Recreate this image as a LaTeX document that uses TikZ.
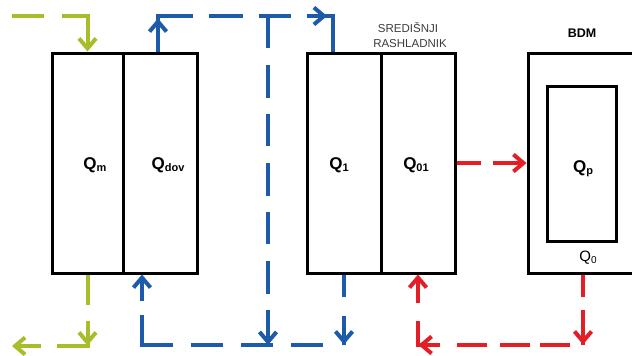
\documentclass[tikz,border=0pt]{standalone}
\usepackage{fontspec}
\setmainfont{Liberation Sans}
\usetikzlibrary{arrows.meta,decorations.markings,calc}
\definecolor{cgreen}{HTML}{A9BD2A}
\definecolor{cblue}{HTML}{1E5AAA}
\definecolor{cred}{HTML}{E31E24}
\definecolor{cgray}{HTML}{3C3C3C}
\newcommand{\Qsub}[1]{Q\raisebox{-2pt}{\fontsize{11}{11}\selectfont #1}}
\newcommand{\Qsubr}[1]{Q\raisebox{-2pt}{\fontsize{10}{10}\selectfont #1}}
\tikzset{
  box/.style={draw=black, line width=3pt, inner sep=0pt, minimum height=220pt},
  tip/.tip={Straight Barb[length=10pt,width=17pt]},
  flow/.style={line width=4pt, line cap=butt, line join=miter},
  gline/.style={flow, draw=cgreen},
  bline/.style={flow, draw=cblue},
  rline/.style={flow, draw=cred},
  marr/.style={postaction={decorate, decoration={markings, mark=at position #1 with {\arrow{tip}}}}},
  qlab/.style={inner sep=0pt, anchor=base, font=\fontsize{17}{17}\selectfont\bfseries},
  small/.style={inner sep=0pt, anchor=base, text=cgray, font=\fontsize{11.5}{11.5}\selectfont},
}
\begin{document}
\begin{tikzpicture}[x=1pt, y=-1pt]
\useasboundingbox (0,0) rectangle (632,356);

% boxes
\node[box, minimum width=71pt] (qm) at (87.5,163) {};
\node[box, minimum width=74pt] (qdov) at (160,163) {};
\node[box, minimum width=74pt] (q1) at (344,163) {};
\node[box, minimum width=74pt] (q01) at (418,163) {};
\node[box, minimum width=69pt, minimum height=155pt] (qp) at (581.5,163.5) {};
\coordinate (bdmtr) at (634,53);
\coordinate (bdmtl) at (528,53);
\coordinate (bdmbl) at (528,273);
\coordinate (bdmbr) at (634,273);
\draw[line width=3pt, line join=miter] (bdmtr) -- (bdmtl) -- (bdmbl) -- (bdmbr);
\coordinate (bdmw) at (526.5,163);
\coordinate (bdms) at (583,274.5);

% labels
\node[qlab] (tqm) at (95,169) {\Qsub{m}};
\node[qlab] (tqdov) at (168,169) {\Qsub{dov}};
\node[qlab] (tq1) at (339,169) {\Qsub{1}};
\node[qlab] (tq01) at (416,169) {\Qsub{01}};
\node[qlab] (tqp) at (583,172) {\Qsub{p}};
\node[inner sep=0pt, anchor=base, font=\fontsize{15}{15}\selectfont] (tq0) at (588,261) {\Qsubr{0}};
\node[small] (tsred) at (408,32.5) {SREDIŠNJI};
\node[small] (trash) at (410,47) {RASHLADNIK};
\node[inner sep=0pt, anchor=base, font=\fontsize{12.5}{12.5}\selectfont\bfseries] (tbdm) at (582,37) {BDM};

% green
\coordinate (gin) at (12,16);
\coordinate (gout) at (12,346);
\draw[gline, dash pattern=on 32pt off 18pt on 120pt, -{tip}]
  (gin) -- (gin -| qm.north) -- (qm.north);
\draw[gline, dash pattern=on 30pt off 16pt on 56pt off 16pt on 60pt, -{tip}, marr=71pt]
  (qm.south) -- (qm.south |- gout) -- (gout);

% blue
\coordinate (btl) at (158,16);
\coordinate (btr) at (333,16);
\coordinate (bb) at (268,16);
\coordinate (bbot) at (268,345);
\coordinate (bbl) at (142,345);
\draw[bline, dash pattern=on 70pt off 16pt on 34pt off 16pt on 32pt off 16pt on 90pt, marr=33pt, marr=204.5pt]
  (btl |- qdov.north) -- (btl) -- (btr) -- (btr |- q1.north);
\draw[bline, dash pattern=on 32pt off 17pt on 33pt off 16pt, -{tip}]
  (bb) -- (bbot);
\draw[bline, dash pattern=on 22pt off 19pt on 29.5pt off 21pt on 32pt off 18pt on 32pt off 18pt on 32pt off 18pt on 61pt off 14pt on 40pt, -{tip}, marr=70pt]
  (q1.south) -- (q1.south |- bbl) -- (bbl) -- (bbl |- qdov.south);

% red
\coordinate (rbr) at (583,345);
\draw[rline, dash pattern=on 24pt off 12pt on 50pt, -{tip}]
  (q01.east) -- (bdmw);
\draw[rline, dash pattern=on 22pt off 13pt on 35.5pt off 13pt on 30pt off 10pt on 30pt off 13pt on 30pt off 17pt on 46pt off 18pt on 40pt, -{tip}, marr=70pt, marr=235pt]
  (bdms) -- (rbr) -- (rbr -| q01.south) -- (q01.south);
\end{tikzpicture}
\end{document}
